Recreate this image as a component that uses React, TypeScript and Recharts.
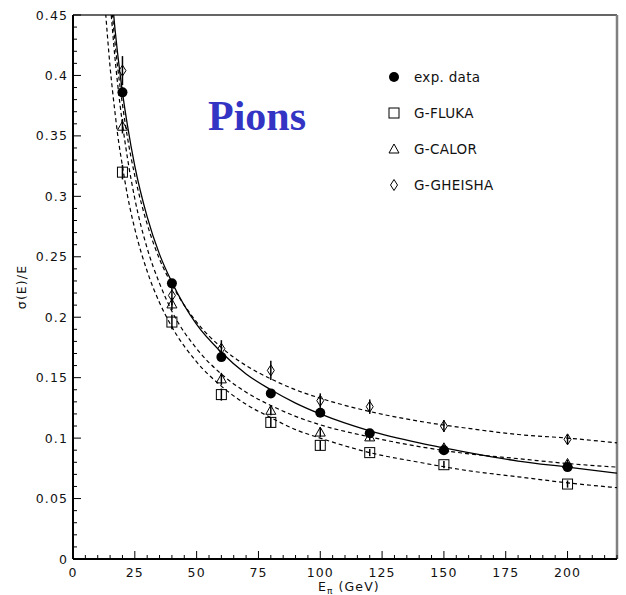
import {
  ComposedChart,
  Line,
  Scatter,
  XAxis,
  YAxis,
  ErrorBar,
  ReferenceLine,
  Legend,
} from 'recharts';

// beam energies (GeV) of the measured points
const energies = [20, 40, 60, 80, 100, 120, 150, 200];

// sigma(E)/E per data set, with error bar half-widths
const expData = [0.386, 0.228, 0.167, 0.137, 0.121, 0.104, 0.09, 0.076];
const expErr = [0.004, 0.003, 0.003, 0.003, 0.003, 0.002, 0.002, 0.002];
const flukaData = [0.32, 0.196, 0.136, 0.113, 0.094, 0.088, 0.078, 0.062];
const flukaErr = [0.006, 0.006, 0.005, 0.004, 0.004, 0.003, 0.003, 0.003];
const calorData = [0.358, 0.211, 0.149, 0.123, 0.105, 0.101, 0.092, 0.079];
const calorErr = [0.006, 0.005, 0.005, 0.004, 0.004, 0.003, 0.003, 0.003];
const gheishaData = [0.404, 0.218, 0.174, 0.156, 0.131, 0.126, 0.11, 0.099];
const gheishaErr = [0.012, 0.008, 0.007, 0.008, 0.006, 0.006, 0.005, 0.004];

// fitted resolution curves, sampled along E
const fitEnergies = [
  13, 14, 15, 16, 17, 18, 20, 22, 25, 30, 35, 40, 50, 60, 70, 80, 90, 100, 120,
  140, 160, 180, 200, 220,
];
const expFit = [
  0.543, 0.511, 0.484, 0.46, 0.438, 0.419, 0.386, 0.359, 0.325, 0.283, 0.252,
  0.229, 0.194, 0.171, 0.153, 0.14, 0.129, 0.12, 0.106, 0.096, 0.088, 0.081,
  0.076, 0.071,
];
const flukaFit = [
  0.457, 0.431, 0.407, 0.387, 0.369, 0.352, 0.325, 0.301, 0.273, 0.238, 0.212,
  0.192, 0.163, 0.143, 0.128, 0.117, 0.107, 0.1, 0.088, 0.08, 0.073, 0.068,
  0.063, 0.059,
];
const calorFit = [
  0.525, 0.492, 0.462, 0.437, 0.414, 0.394, 0.36, 0.332, 0.298, 0.257, 0.228,
  0.205, 0.174, 0.153, 0.138, 0.127, 0.118, 0.111, 0.101, 0.093, 0.087, 0.083,
  0.079, 0.076,
];
const gheishaFit = [
  0.532, 0.5, 0.473, 0.449, 0.427, 0.408, 0.376, 0.349, 0.317, 0.277, 0.248,
  0.227, 0.196, 0.175, 0.16, 0.149, 0.14, 0.133, 0.122, 0.114, 0.108, 0.103,
  0.1, 0.096,
];

const yMajor = [0, 0.05, 0.1, 0.15, 0.2, 0.25, 0.3, 0.35, 0.4, 0.45];
const yLabels = ['0', '0.05', '0.1', '0.15', '0.2', '0.25', '0.3', '0.35', '0.4', '0.45'];
const xMajor = [0, 25, 50, 75, 100, 125, 150, 175, 200];
const xLabels = ['0', '25', '50', '75', '100', '125', '150', '175', '200'];

const legendNames = ['exp. data', 'G-FLUKA', 'G-CALOR', 'G-GHEISHA'];

// minor ticks every 5 GeV and every 0.01
const xTicks = Array.from({ length: 45 }, (_, i) => i * 5);
const yTicks = Array.from({ length: 46 }, (_, i) => +(i * 0.01).toFixed(2));

const points = (ys: number[], errs: number[]) =>
  energies.map((x, i) => ({ x, y: ys[i], err: errs[i] }));
const curve = (ys: number[]) => fitEnergies.map((x, i) => ({ x, y: ys[i] }));

const FONT = "'DejaVu Sans', sans-serif";
const textStyle = { fontFamily: FONT, fontSize: 12.5, letterSpacing: 1.1, fill: '#111' };

const majorIndex = (list: number[], v: number) =>
  list.findIndex((m) => Math.abs(m - v) < 1e-6);

function YTick({ x, y, payload }: any) {
  const i = majorIndex(yMajor, payload.value);
  return (
    <g>
      <line x1={x} x2={x + (i >= 0 ? 8 : 4)} y1={y} y2={y} stroke="#000" />
      {i >= 0 && (
        <text x={x - 5} y={y} dy="0.36em" textAnchor="end" style={textStyle}>
          {yLabels[i]}
        </text>
      )}
    </g>
  );
}

function XTick({ x, y, payload }: any) {
  const i = majorIndex(xMajor, payload.value);
  return (
    <g>
      <line x1={x} x2={x} y1={y} y2={y - (i >= 0 ? 8 : 4)} stroke="#000" />
      {i >= 0 && (
        <text x={x} y={y + 18} textAnchor="middle" style={textStyle}>
          {xLabels[i]}
        </text>
      )}
    </g>
  );
}

const Dot = ({ cx, cy }: any) => <circle cx={cx} cy={cy} r={5} fill="#000" />;
const Square = ({ cx, cy }: any) => (
  <rect x={cx - 5} y={cy - 5} width={10} height={10} fill="none" stroke="#000" />
);
const Triangle = ({ cx, cy }: any) => (
  <path d={`M${cx},${cy - 5}L${cx + 5},${cy + 4}L${cx - 5},${cy + 4}Z`} fill="none" stroke="#000" />
);
const Diamond = ({ cx, cy }: any) => (
  <path
    d={`M${cx},${cy - 5.5}L${cx + 3.5},${cy}L${cx},${cy + 5.5}L${cx - 3.5},${cy}Z`}
    fill="none"
    stroke="#000"
  />
);

const legendShapes = [Dot, Square, Triangle, Diamond];

function LegendBox() {
  return (
    <svg width={170} height={140}>
      {legendNames.map((name, i) => {
        const Shape = legendShapes[i];
        const cy = 15 + i * 36;
        return (
          <g key={name}>
            <Shape cx={14} cy={cy} />
            <text
              x={34}
              y={cy}
              dy="0.36em"
              style={{ fontFamily: FONT, fontSize: 13.5, letterSpacing: 0.3, fill: '#111' }}
            >
              {name}
            </text>
          </g>
        );
      })}
    </svg>
  );
}

const AxisTitleX = () => (
  <text x={318} y={591} style={textStyle}>
    E<tspan fontSize={9} dy={3}>π</tspan>
    <tspan dy={-3}> (GeV)</tspan>
  </text>
);

const AxisTitleY = () => (
  <text
    x={0}
    y={0}
    textAnchor="middle"
    transform="translate(26 287) rotate(-90)"
    style={textStyle}
  >
    σ(E)/E
  </text>
);

export default function App() {
  return (
    <div style={{ position: 'absolute', left: 0, top: 0, width: 626, height: 595, background: '#fff' }}>
      <ComposedChart
        width={626}
        height={595}
        margin={{ top: 15, right: 9, bottom: 0, left: 0 }}
      >
        <XAxis
          type="number"
          dataKey="x"
          domain={[0, 220]}
          allowDataOverflow
          ticks={xTicks}
          interval={0}
          height={36}
          tickSize={0}
          tickMargin={0}
          tickLine={false}
          axisLine={{ stroke: '#000', strokeWidth: 2 }}
          tick={<XTick />}
          label={<AxisTitleX />}
        />
        <YAxis
          type="number"
          dataKey="y"
          domain={[0, 0.45]}
          allowDataOverflow
          ticks={yTicks}
          interval={0}
          width={73}
          tickSize={0}
          tickMargin={0}
          tickLine={false}
          axisLine={{ stroke: '#000', strokeWidth: 2 }}
          tick={<YTick />}
          label={<AxisTitleY />}
        />
        <ReferenceLine y={0.45} stroke="#333" strokeWidth={1.5} />
        <ReferenceLine x={220} stroke="#808080" strokeWidth={2.5} />

        <Line data={curve(flukaFit)} dataKey="y" type="monotone" stroke="#000" strokeWidth={1.2}
          strokeDasharray="4 3" dot={false} activeDot={false} isAnimationActive={false} />
        <Line data={curve(calorFit)} dataKey="y" type="monotone" stroke="#000" strokeWidth={1.2}
          strokeDasharray="4 3" dot={false} activeDot={false} isAnimationActive={false} />
        <Line data={curve(gheishaFit)} dataKey="y" type="monotone" stroke="#000" strokeWidth={1.2}
          strokeDasharray="4 3" dot={false} activeDot={false} isAnimationActive={false} />
        <Line data={curve(expFit)} dataKey="y" type="monotone" stroke="#000" strokeWidth={1.3}
          dot={false} activeDot={false} isAnimationActive={false} />

        <Scatter data={points(flukaData, flukaErr)} shape={<Square />} isAnimationActive={false}>
          <ErrorBar dataKey="err" direction="y" width={0} stroke="#000" isAnimationActive={false} />
        </Scatter>
        <Scatter data={points(calorData, calorErr)} shape={<Triangle />} isAnimationActive={false}>
          <ErrorBar dataKey="err" direction="y" width={0} stroke="#000" isAnimationActive={false} />
        </Scatter>
        <Scatter data={points(gheishaData, gheishaErr)} shape={<Diamond />} isAnimationActive={false}>
          <ErrorBar dataKey="err" direction="y" width={0} stroke="#000" isAnimationActive={false} />
        </Scatter>
        <Scatter data={points(expData, expErr)} shape={<Dot />} isAnimationActive={false}>
          <ErrorBar dataKey="err" direction="y" width={0} stroke="#000" isAnimationActive={false} />
        </Scatter>

        <Legend
          layout="vertical"
          align="center"
          verticalAlign="middle"
          content={<LegendBox />}
          wrapperStyle={{ left: 380, top: 62, width: 170, height: 140 }}
        />
      </ComposedChart>
      <svg
        width={626}
        height={595}
        style={{ position: 'absolute', left: 0, top: 0, pointerEvents: 'none' }}
      >
        <text
          x={208}
          y={130}
          style={{ fontFamily: "'Liberation Serif', serif", fontWeight: 700, fontSize: 42, fill: '#3434c4' }}
        >
          Pions
        </text>
      </svg>
    </div>
  );
}
